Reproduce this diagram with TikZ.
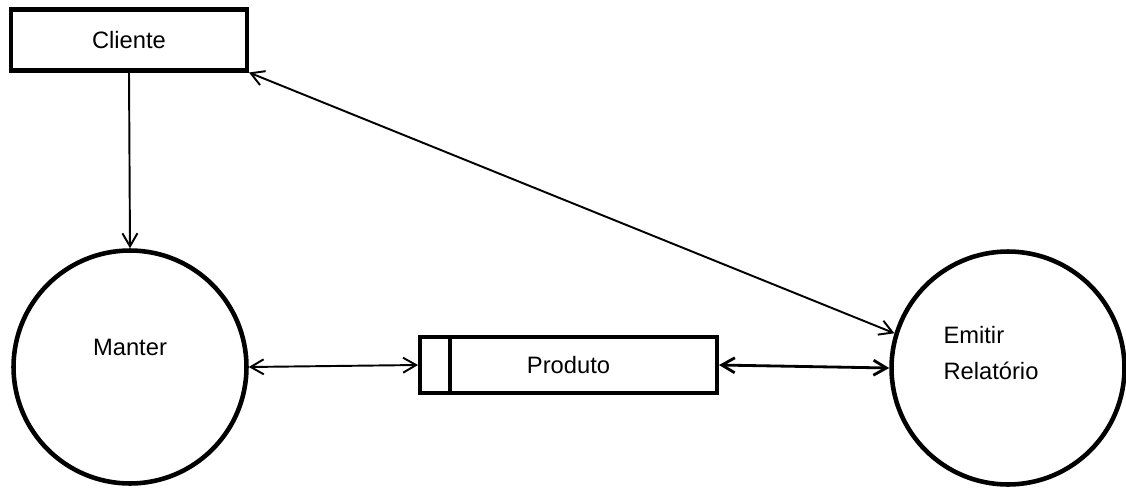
\documentclass[tikz,border=0pt]{standalone}
\usepackage{fontspec}
\setmainfont{Liberation Sans}
\usepackage{tikz}
\usetikzlibrary{arrows.meta}
\usetikzlibrary{positioning}
\tikzset{>={Straight Barb[length=0.26cm, width=0.3cm]}}
\tikzset{entity/.style = {draw, rectangle, line width = 2.3pt, minimum width = 4.72cm,
                          minimum height = 1.22cm, inner sep = 0}}
\tikzset{store/.style = {draw, rectangle, line width = 2.3pt, minimum width = 5.94cm,
                         minimum height = 1.12cm, inner sep = 0}}
\tikzset{process/.style = {draw, circle, line width = 2.6pt, minimum size = 4.66cm, inner sep = 0}}
\tikzset{flow/.style = {<->, line width = 1.1pt}}

\begin{document}
\begin{tikzpicture}[x=0.02cm, y=-0.02cm, font=\fontsize{13.5}{20}\selectfont]
    \useasboundingbox (0, 0) rectangle (1126, 487);

    \node [entity] (cliente) at (129, 40) {Cliente};
    \node [process, label={[yshift=0.4cm]center:Manter}] (manter) at (130, 367) {};
    \node [process, label={[xshift=-0.34cm, yshift=0.3cm, align=left]center:Emitir\\Relatório}]
          (emitir) at (1008, 368) {};
    \node [store] (produto) at (568.5, 365) {Produto};
    \draw [line width = 2.3pt] ([xshift=0.64cm]produto.north west) -- ([xshift=0.64cm]produto.south west);

    \draw [->, line width = 1.1pt] (cliente.south) -- (manter.north);
    \draw [flow] (cliente.south east) -- (emitir.163);
    \draw [flow] (manter.east) -- (produto.west);
    \draw [flow, line width = 1.6pt] (produto.east) -- (emitir.west);
\end{tikzpicture}
\end{document}
